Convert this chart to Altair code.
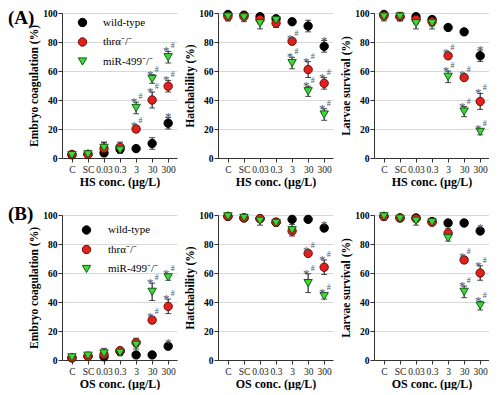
import json
import altair as alt
import pandas as pd

categories = ["C", "SC", "0.03", "0.3", "3", "30", "300"]
series_names = ["wild-type", "thrα⁻/⁻", "miR-499⁻/⁻"]
fill_colors = ["#000000", "#e3211c", "#41d63a"]
stroke_colors = ["#000000", "#6e0a0a", "#0b5e12"]
shapes = ["circle", "circle", "triangle-down"]

# (A) HS exposure
hs_coag_wt = [2.2, 2.5, 3.5, 6.0, 6.5, 10.0, 24.0]
hs_coag_wt_err = [1.5, 1.5, 2.0, 2.5, 2.0, 4.0, 4.0]
hs_coag_thra = [2.5, 2.5, 6.5, 7.5, 20.0, 40.0, 49.5]
hs_coag_thra_err = [2.0, 2.0, 4.0, 3.5, 2.0, 5.5, 4.0]
hs_coag_mir = [2.0, 2.5, 7.0, 5.5, 34.5, 54.5, 69.5]
hs_coag_mir_err = [2.0, 2.0, 4.0, 2.0, 4.0, 3.0, 4.0]

hs_hatch_wt = [99.0, 98.5, 97.5, 96.0, 94.0, 91.0, 77.0]
hs_hatch_wt_err = [1.5, 1.5, 2.0, 2.0, 2.0, 4.0, 4.0]
hs_hatch_thra = [97.5, 97.5, 95.5, 93.0, 80.5, 61.0, 51.5]
hs_hatch_thra_err = [2.0, 2.0, 3.0, 3.0, 1.5, 5.5, 4.0]
hs_hatch_mir = [97.5, 97.0, 93.0, 95.0, 65.5, 46.0, 30.0]
hs_hatch_mir_err = [3.0, 3.0, 4.0, 3.0, 4.0, 3.5, 4.0]

hs_surv_wt = [99.0, 97.5, 97.5, 95.5, 90.0, 87.0, 70.5]
hs_surv_wt_err = [1.5, 2.0, 2.0, 2.0, 2.0, 2.0, 4.0]
hs_surv_thra = [98.0, 97.5, 95.5, 94.0, 70.5, 55.5, 39.0]
hs_surv_thra_err = [2.0, 2.0, 3.0, 3.0, 2.0, 2.0, 5.5]
hs_surv_mir = [97.5, 97.5, 93.0, 93.0, 56.0, 32.0, 18.0]
hs_surv_mir_err = [3.0, 3.0, 4.0, 4.0, 4.0, 3.5, 2.0]

# (B) OS exposure
os_coag_wt = [1.5, 2.5, 2.2, 6.0, 3.5, 3.5, 9.5]
os_coag_wt_err = [1.0, 1.5, 1.5, 2.0, 1.5, 1.5, 2.0]
os_coag_thra = [1.5, 2.5, 3.8, 6.5, 12.0, 27.5, 37.0]
os_coag_thra_err = [1.0, 1.5, 2.0, 2.0, 3.0, 2.0, 5.0]
os_coag_mir = [1.8, 3.0, 4.5, 5.0, 10.5, 47.0, 57.0]
os_coag_mir_err = [1.5, 2.0, 3.5, 2.0, 3.0, 6.0, 2.0]

os_hatch_wt = [99.0, 98.0, 97.5, 95.0, 97.0, 97.0, 91.0]
os_hatch_wt_err = [1.5, 1.5, 1.5, 2.0, 2.0, 2.0, 2.0]
os_hatch_thra = [99.0, 98.0, 97.5, 95.0, 89.0, 73.5, 64.0]
os_hatch_thra_err = [1.5, 1.5, 1.5, 2.0, 2.0, 2.0, 5.0]
os_hatch_mir = [99.0, 98.0, 96.0, 94.5, 89.5, 53.0, 44.0]
os_hatch_mir_err = [2.0, 2.0, 3.0, 2.0, 4.0, 6.5, 2.0]

os_surv_wt = [99.0, 98.0, 98.0, 95.5, 94.5, 94.5, 89.0]
os_surv_wt_err = [1.5, 1.5, 1.5, 2.0, 2.0, 2.0, 2.0]
os_surv_thra = [99.0, 98.0, 97.5, 95.0, 87.5, 69.0, 60.0]
os_surv_thra_err = [1.5, 1.5, 1.5, 2.0, 3.0, 2.0, 5.0]
os_surv_mir = [99.0, 97.5, 96.0, 95.0, 84.0, 47.0, 37.5]
os_surv_mir_err = [2.0, 2.0, 3.0, 2.0, 2.0, 4.0, 3.0]

# significance marks
sig_hs_wt = ["", "", "", "", "", "", "*"]
sig_hs_mut = ["", "", "", "", "*#", "*#", "*#"]
sig_os_wt = ["", "", "", "", "", "", "*"]
sig_os_mut = ["", "", "", "", "", "*#", "*#"]

FONT = "Liberation Serif"
label_expr = json.dumps(categories) + "[datum.value]"


def make_df(means, errs, sigs):
    rows = []
    for s, m, e, g in zip(series_names, means, errs, sigs):
        for i in range(len(categories)):
            rows.append(dict(idx=i, series=s, mean=m[i], lo=m[i] - e[i],
                             hi=m[i] + e[i], sig=g[i]))
    return pd.DataFrame(rows)


def panel(df, ytitle, xtitle, width, legend=None, tag=None, tag_y=0):
    xscale = alt.Scale(domain=[-0.62, 6.55], nice=False, zero=False)
    yscale = alt.Scale(domain=[0, 100], nice=False)
    xaxis = alt.Axis(values=list(range(7)), labelExpr=label_expr, title=xtitle,
                     grid=False, labelOverlap=False, labelFlush=False,
                     labelFont=FONT, labelFontSize=9.5, labelFontWeight="normal",
                     labelColor="#222", labelPadding=2, tickSize=4,
                     titleFont=FONT, titleFontSize=12, titleFontWeight="bold",
                     titleColor="#000", titlePadding=3,
                     domainColor="#333", tickColor="#333")
    yaxis = alt.Axis(values=[0, 20, 40, 60, 80, 100], title=ytitle, grid=True,
                     gridColor="#d8d8d8", labelFont=FONT, labelFontSize=9.5,
                     labelFontWeight="bold", labelColor="#000", labelPadding=1,
                     tickSize=4, titleFont=FONT, titleFontSize=11.5,
                     titleFontWeight="bold", titleColor="#000", titlePadding=3,
                     domainColor="#333", tickColor="#333", labelFlush=False)
    x = alt.X("idx:Q", scale=xscale, axis=xaxis)
    base = alt.Chart(df)
    rules = base.mark_rule(color="#000", strokeWidth=1).encode(
        x=x, y=alt.Y("lo:Q", scale=yscale, axis=yaxis), y2="hi:Q")
    cap_lo = base.mark_tick(orient="horizontal", size=6, thickness=1, color="#000").encode(
        x=x, y=alt.Y("lo:Q", scale=yscale, axis=yaxis))
    cap_hi = base.mark_tick(orient="horizontal", size=6, thickness=1, color="#000").encode(
        x=x, y=alt.Y("hi:Q", scale=yscale, axis=yaxis))
    pts = base.mark_point(filled=True, size=70, strokeWidth=1, opacity=1).encode(
        x=x, y=alt.Y("mean:Q", scale=yscale, axis=yaxis),
        fill=alt.Fill("series:N", scale=alt.Scale(domain=series_names, range=fill_colors),
                      legend=legend, sort=series_names),
        shape=alt.Shape("series:N", scale=alt.Scale(domain=series_names, range=shapes),
                        legend=legend, sort=series_names),
        stroke=alt.Stroke("series:N", scale=alt.Scale(domain=series_names, range=stroke_colors),
                          legend=legend, sort=series_names),
    )
    star1 = base.transform_filter("datum.sig == '*'").mark_text(
        text="*", font=FONT, fontSize=13, baseline="alphabetic", dy=4, color="#555").encode(
        x=x, y=alt.Y("hi:Q", scale=yscale, axis=yaxis))
    star2 = base.transform_filter("datum.sig == '*#'").mark_text(
        text="*", font=FONT, fontSize=13, baseline="alphabetic", dy=4, dx=-2, color="#555").encode(
        x=x, y=alt.Y("hi:Q", scale=yscale, axis=yaxis))
    hash2 = base.transform_filter("datum.sig == '*#'").mark_text(
        text="#", font=FONT, fontSize=8, baseline="alphabetic", dy=-3, dx=4.5, color="#555").encode(
        x=x, y=alt.Y("hi:Q", scale=yscale, axis=yaxis))
    layers = [rules, cap_lo, cap_hi, pts, star1, star2, hash2]
    if tag is not None:
        lab = alt.Chart(pd.DataFrame({"t": [tag]})).mark_text(
            align="left", baseline="middle", font=FONT, fontSize=19,
            fontWeight="bold", color="#000").encode(
            text="t:N", x=alt.value(-54), y=alt.value(tag_y))
        layers.append(lab)
    return alt.layer(*layers).properties(width=width, height=145)


def legend_at(lx, ly, off):
    return alt.Legend(title=None, orient="none", legendX=lx, legendY=ly,
                      labelFont=FONT, labelFontSize=11, labelColor="#000",
                      labelOffset=off, rowPadding=6.5, symbolSize=70,
                      symbolStrokeWidth=1, padding=0)


dfs = {
    "hs_coag": make_df([hs_coag_wt, hs_coag_thra, hs_coag_mir],
                       [hs_coag_wt_err, hs_coag_thra_err, hs_coag_mir_err],
                       [sig_hs_wt, sig_hs_mut, sig_hs_mut]),
    "hs_hatch": make_df([hs_hatch_wt, hs_hatch_thra, hs_hatch_mir],
                        [hs_hatch_wt_err, hs_hatch_thra_err, hs_hatch_mir_err],
                        [sig_hs_wt, sig_hs_mut, sig_hs_mut]),
    "hs_surv": make_df([hs_surv_wt, hs_surv_thra, hs_surv_mir],
                       [hs_surv_wt_err, hs_surv_thra_err, hs_surv_mir_err],
                       [sig_hs_wt, sig_hs_mut, sig_hs_mut]),
    "os_coag": make_df([os_coag_wt, os_coag_thra, os_coag_mir],
                       [os_coag_wt_err, os_coag_thra_err, os_coag_mir_err],
                       [sig_os_wt, sig_os_mut, sig_os_mut]),
    "os_hatch": make_df([os_hatch_wt, os_hatch_thra, os_hatch_mir],
                        [os_hatch_wt_err, os_hatch_thra_err, os_hatch_mir_err],
                        [sig_os_wt, sig_os_mut, sig_os_mut]),
    "os_surv": make_df([os_surv_wt, os_surv_thra, os_surv_mir],
                       [os_surv_wt_err, os_surv_thra_err, os_surv_mir_err],
                       [sig_os_wt, sig_os_mut, sig_os_mut]),
}

W = 115
hs_x = "HS conc. (µg/L)"
os_x = "OS conc. (µg/L)"

panels = [
    panel(dfs["hs_coag"], "Embryo coagulation (%)", hs_x, W,
          legend=legend_at(15, 4, 15), tag="(A)", tag_y=5),
    panel(dfs["hs_hatch"], "Hatchability (%)", hs_x, W),
    panel(dfs["hs_surv"], "Larvae survival (%)", hs_x, W),
    panel(dfs["os_coag"], "Embryo coagulation (%)", os_x, W,
          legend=legend_at(19, 9.5, 16), tag="(B)", tag_y=-1),
    panel(dfs["os_hatch"], "Hatchability (%)", os_x, W),
    panel(dfs["os_surv"], "Larvae survival (%)", os_x, W),
]

chart = alt.concat(
    *panels, columns=3, spacing={"row": 57, "column": 41}, bounds="flush"
).resolve_legend(
    fill="independent", shape="independent", stroke="independent"
).properties(padding=0).configure_view(stroke=None)

chart.save("out.html", embed_options={"renderer": "svg", "actions": False})
